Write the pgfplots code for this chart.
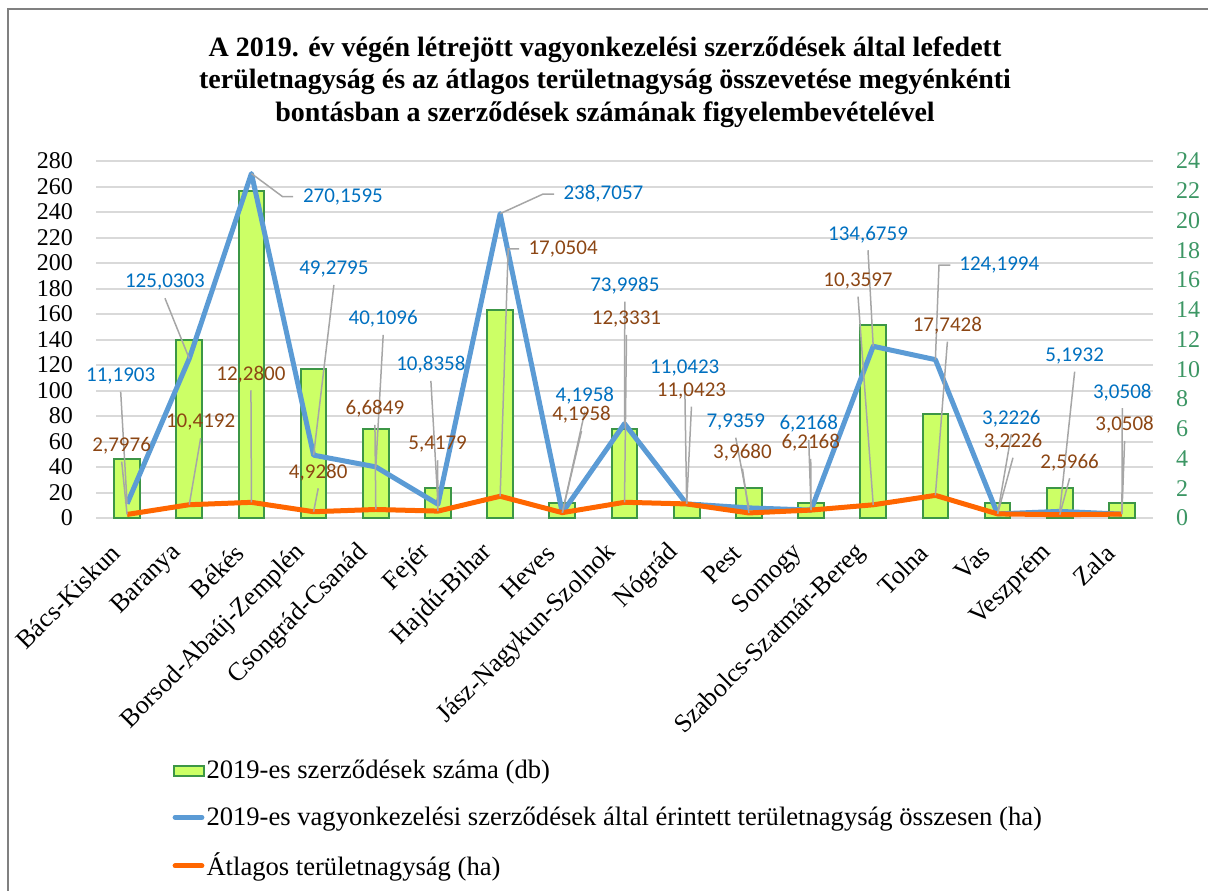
\documentclass[border=0pt]{standalone}
\usepackage{pgfplots}
\pgfplotsset{compat=1.18}
\usepackage{fontspec}
\setmainfont{Liberation Serif}
\newfontfamily\lab{Carlito}

\definecolor{barfill}{RGB}{204,255,102}
\definecolor{bargreen}{RGB}{60,150,70}
\definecolor{lineblue}{RGB}{91,155,213}
\definecolor{lineorange}{RGB}{255,102,0}
\definecolor{lblblue}{RGB}{0,112,192}
\definecolor{lblbrown}{RGB}{140,70,20}
\definecolor{ticgreen}{RGB}{60,150,100}
\definecolor{gridgray}{RGB}{217,217,217}
\definecolor{leadgray}{RGB}{166,166,166}
\definecolor{framegray}{RGB}{128,128,128}

\newcommand\lbl[6]{%
  \draw[leadgray, line width=0.75pt] (axis cs:#2,{#3-12.5}) -- (axis cs:#5,#6);
  \node[text=#1, font=\lab\fontsize{10.5}{12}\selectfont, inner sep=0pt] at (axis cs:#2,#3) {#4};}

\pgfplotsset{myaxis/.style={scale only axis, width=528.5pt, height=178.5pt,
  at={(48pt,186pt)}, anchor=south west, xmin=-0.5, xmax=16.5, clip=false,
  axis line style={draw=none}, tick style={draw=none},
  /pgf/number format/assume math mode=true},
  barleg/.style={legend image code/.code={\draw[##1] (0pt,-2.5pt) rectangle (15pt,2.5pt);}},
  lineleg/.style={legend image code/.code={\draw[##1] (0.8pt,0pt) -- (14.2pt,0pt);}}}

\begin{document}
\begin{tikzpicture}[x=1pt,y=1pt]
\useasboundingbox (0,0) rectangle (604,445);
\draw[framegray, line width=1.2pt] (4,-10) -- (4,440.5) -- (620,440.5);
\node[align=center, font=\bfseries\fontsize{14}{16.25}\selectfont] at (302.5,404)
 {A 2019. év végén létrejött vagyonkezelési szerződések által lefedett\\
  területnagyság és az átlagos területnagyság összevetése megyénkénti\\
  bontásban a szerződések számának figyelembevételével};

% grid + left ticks + category labels
\begin{axis}[myaxis, ymin=0, ymax=280, ytick={0,20,...,280},
  ymajorgrids, grid style={gridgray, line width=1pt},
  yticklabel pos=left, xticklabel pos=bottom,
  xtick={0,...,16},
  xticklabels={Bács-Kiskun,Baranya,Békés,Borsod-Abaúj-Zemplén,Csongrád-Csanád,Fejér,Hajdú-Bihar,Heves,Jász-Nagykun-Szolnok,Nógrád,Pest,Somogy,Szabolcs-Szatmár-Bereg,Tolna,Vas,Veszprém,Zala},
  x tick label style={xshift=-3.5pt, yshift=-13pt, rotate=45, anchor=east, font=\fontsize{13}{15}\selectfont},
  y tick label style={xshift=-8pt, font=\fontsize{12}{13}\selectfont}]
\addplot[draw=none] coordinates {(0,0)};
\end{axis}

% bars on right axis
\begin{axis}[myaxis, ymin=0, ymax=24, ytick={0,2,...,24}, yticklabel pos=right,
  xtick=\empty,
  y tick label style={xshift=8pt, text=ticgreen, font=\fontsize{12}{13}\selectfont}]
\addplot[ybar, bar width=12.85pt, fill=barfill, draw=bargreen, line width=1pt]
 coordinates {(0,4) (1,12) (2,22) (3,10) (4,6) (5,2) (6,14) (7,1) (8,6) (9,1) (10,2) (11,1) (12,13) (13,7) (14,1) (15,2) (16,1)};
\end{axis}

% lines, labels, legend
\begin{axis}[myaxis, ymin=0, ymax=280, hide axis,
  legend style={at={(0.072,-0.672)}, anchor=north west, draw=none, fill=none,
    font=\fontsize{13.3}{15.5}\selectfont, row sep=10.4pt, inner sep=0pt,
    nodes={inner sep=1pt}},
  legend cell align=left]
\addplot[lineblue, line width=2.5pt, line join=round, forget plot] coordinates {
 (0,11.1903) (1,125.0303) (2,270.1595) (3,49.2795) (4,40.1096) (5,10.8358)
 (6,238.7057) (7,4.1958) (8,73.9985) (9,11.0423) (10,7.9359) (11,6.2168)
 (12,134.6759) (13,124.1994) (14,3.2226) (15,5.1932) (16,3.0508)};
\addplot[lineorange, line width=2.5pt, line join=round, forget plot] coordinates {
 (0,2.7976) (1,10.4192) (2,12.2800) (3,4.9280) (4,6.6849) (5,5.4179)
 (6,17.0504) (7,4.1958) (8,12.3331) (9,11.0423) (10,3.9680) (11,6.2168)
 (12,10.3597) (13,17.7428) (14,3.2226) (15,2.5966) (16,3.0508)};

% blue labels
\lbl{lblblue}{-0.103}{111.6}{11,1903}{0}{11.1903}
\lbl{lblblue}{0.609}{184.9}{125,0303}{1}{125.0303}
\draw[leadgray, line width=0.75pt] (axis cs:2,270.1595) -- (axis cs:2.502,252) -- (axis cs:2.672,252);
\node[text=lblblue, font=\lab\fontsize{10.5}{12}\selectfont, inner sep=0pt, anchor=west] at (axis cs:2.823,252) {270,1595};
\lbl{lblblue}{3.326}{195.3}{49,2795}{3}{49.2795}
\lbl{lblblue}{4.119}{156.1}{40,1096}{4}{40.1096}
\lbl{lblblue}{4.886}{120.0}{10,8358}{5}{10.8358}
\draw[leadgray, line width=0.75pt] (axis cs:6,238.7057) -- (axis cs:6.691,254.1) -- (axis cs:6.868,254.1);
\node[text=lblblue, font=\lab\fontsize{10.5}{12}\selectfont, inner sep=0pt, anchor=west] at (axis cs:7.013,254.1) {238,7057};
\lbl{lblblue}{7.362}{95.9}{4,1958}{7}{4.1958}
\lbl{lblblue}{8.005}{182.2}{73,9985}{8}{73.9985}
\lbl{lblblue}{8.969}{117.4}{11,0423}{9}{11.0423}
\lbl{lblblue}{9.789}{75.5}{7,9359}{10}{7.9359}
\lbl{lblblue}{10.963}{73.7}{6,2168}{11}{6.2168}
\lbl{lblblue}{11.916}{222.5}{134,6759}{12}{134.6759}
\draw[leadgray, line width=0.75pt] (axis cs:13,124.1994) -- (axis cs:13.058,198.4) -- (axis cs:13.241,198.4);
\node[text=lblblue, font=\lab\fontsize{10.5}{12}\selectfont, inner sep=0pt, anchor=west] at (axis cs:13.380,198.4) {124,1994};
\lbl{lblblue}{14.222}{78.2}{3,2226}{14}{3.2226}
\lbl{lblblue}{15.240}{127.3}{5,1932}{15}{5.1932}
\lbl{lblblue}{16.006}{98.6}{3,0508}{16}{3.0508}

% brown labels
\lbl{lblbrown}{-0.087}{56.7}{2,7976}{0}{2.7976}
\lbl{lblbrown}{1.183}{75.1}{10,4192}{1}{10.4192}
\lbl{lblbrown}{1.992}{112.7}{12,2800}{2}{12.28}
\lbl{lblbrown}{3.074}{35.8}{4,9280}{3}{4.928}
\lbl{lblbrown}{3.986}{85.5}{6,6849}{4}{6.6849}
\lbl{lblbrown}{4.994}{57.8}{5,4179}{5}{5.4179}
\draw[leadgray, line width=0.75pt] (axis cs:6,17.0504) -- (axis cs:6.129,211) -- (axis cs:6.305,211);
\node[text=lblbrown, font=\lab\fontsize{10.5}{12}\selectfont, inner sep=0pt, anchor=west] at (axis cs:6.450,211) {17,0504};
\lbl{lblbrown}{7.309}{80.8}{4,1958}{7}{4.1958}
\lbl{lblbrown}{8.032}{156.1}{12,3331}{8}{12.3331}
\lbl{lblbrown}{9.077}{99.8}{11,0423}{9}{11.0423}
\lbl{lblbrown}{9.897}{51.2}{3,9680}{10}{3.968}
\lbl{lblbrown}{10.995}{58.8}{6,2168}{11}{6.2168}
\lbl{lblbrown}{11.756}{186.1}{10,3597}{12}{10.3597}
\lbl{lblbrown}{13.193}{150.8}{17,7428}{13}{17.7428}
\lbl{lblbrown}{14.248}{59.8}{3,2226}{14}{3.2226}
\lbl{lblbrown}{15.159}{43.7}{2,5966}{15}{2.5966}
\lbl{lblbrown}{16.043}{72.9}{3,0508}{16}{3.0508}

\addlegendimage{barleg, fill=barfill, draw=bargreen, line width=1pt}
\addlegendentry{2019-es szerződések száma (db)}
\addlegendimage{lineleg, lineblue, line width=2.5pt, line cap=round}
\addlegendentry{2019-es vagyonkezelési szerződések által érintett területnagyság összesen (ha)}
\addlegendimage{lineleg, lineorange, line width=2.5pt, line cap=round}
\addlegendentry{Átlagos területnagyság (ha)}
\end{axis}
\end{tikzpicture}
\end{document}
